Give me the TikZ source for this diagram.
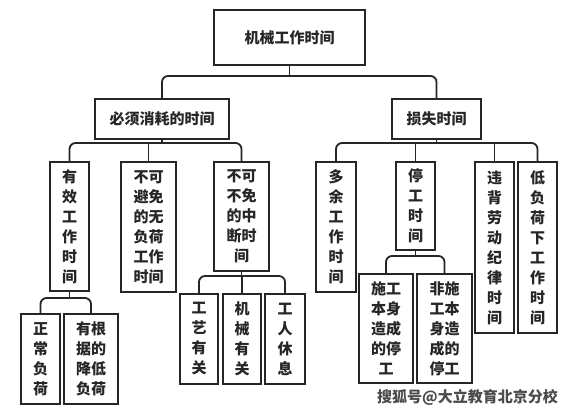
\documentclass[tikz,border=0pt]{standalone}
\usepackage{fontspec}
\setmainfont{Noto Sans CJK SC}
\usetikzlibrary{calc}
\begin{document}
\begin{tikzpicture}[x=1pt,y=-1pt,
  box/.style={draw=black!85,line width=1.8pt,fill=white,inner sep=0pt,align=center,
    font=\fontsize{15}{20}\selectfont\bfseries,text=black!85},
  conn/.style={draw=black!85,line width=1.8pt,rounded corners=6pt},
  wm/.style={font=\fontsize{15}{15}\selectfont\bfseries,text=black!70}]
\useasboundingbox (0,0) rectangle (575,412);
\fill[white] (0,0) rectangle (575,412);
% level 0
\node[box,minimum width=151pt,minimum height=55pt] (top) at (289.5,37.5) {机械工作时间};
% level 1
\node[box,minimum width=134pt,minimum height=40pt] (bx) at (162,119) {必须消耗的时间};
\node[box,minimum width=89pt,minimum height=40pt] (ss) at (436.5,119) {损失时间};
% level 2 left
\node[box,minimum width=39pt,minimum height=129pt] (yx) at (69.5,226.5) {有\\效\\工\\作\\时\\间};
\node[box,minimum width=55pt,minimum height=130pt] (bkb) at (148.5,227) {不可\\避免\\的无\\负荷\\工作\\时间};
\node[box,minimum width=55pt,minimum height=109pt] (zd) at (241.5,216.5) {不可\\不免\\的中\\断时\\间};
% level 2 right
\node[box,minimum width=40pt,minimum height=130pt] (dy) at (336,227) {多\\余\\工\\作\\时\\间};
\node[box,minimum width=39pt,minimum height=88pt] (tg) at (415.5,206) {停\\工\\时\\间};
\node[box,minimum width=39pt,minimum height=171pt] (wb) at (494.5,247.5) {违\\背\\劳\\动\\纪\\律\\时\\间};
\node[box,minimum width=39pt,minimum height=171pt] (dfh) at (537.5,247.5) {低\\负\\荷\\下\\工\\作\\时\\间};
% level 3
\node[box,minimum width=39pt,minimum height=90pt] (zc) at (40.5,359) {正\\常\\负\\荷};
\node[box,minimum width=54pt,minimum height=90pt] (ygj) at (91,359) {有根\\据的\\降低\\负荷};
\node[box,minimum width=38pt,minimum height=90pt] (gy) at (199,339) {工\\艺\\有\\关};
\node[box,minimum width=38pt,minimum height=90pt] (jx) at (242,339) {机\\械\\有\\关};
\node[box,minimum width=40pt,minimum height=90pt] (gr) at (285,339) {工\\人\\休\\息};
\node[box,minimum width=54pt,minimum height=109pt] (sg) at (386,328.5) {施工\\本身\\造成\\的停\\工};
\node[box,minimum width=55pt,minimum height=109pt] (fsg) at (444.5,328.5) {非施\\工本\\身造\\成的\\停工};
% buses
\coordinate (b0) at (top.south |- 0,76);
\coordinate (b1) at (bx.south |- 0,143);
\coordinate (b2) at (ss.south |- 0,143);
\coordinate (b3) at (yx.south |- 0,298);
\coordinate (b4) at (zd.south |- 0,276);
\coordinate (b5) at (tg.south |- 0,256);
% connectors
\draw[conn] (top.south) -- (b0);
\draw[conn] (bx.north) |- (b0) -| (ss.north);
\draw[conn] (bx.south) -- (b1);
\draw[conn] (yx.north) |- (b1) -| (zd.north);
\draw[conn] (bkb.north) -- (bkb.north |- b1);
\draw[conn] (ss.south) -- (b2);
\draw[conn] (dy.north) |- (b2) -| (dfh.north);
\draw[conn] (tg.north) -- (tg.north |- b2);
\draw[conn] (wb.north) -- (wb.north |- b2);
\draw[conn] (yx.south) -- (b3);
\draw[conn] (zc.north) |- (b3) -| (ygj.north);
\draw[conn] (zd.south) -- (b4);
\draw[conn] (gy.north) |- (b4) -| (gr.north);
\draw[conn] (jx.north) -- (jx.north |- b4);
\draw[conn] (tg.south) -- (b5);
\draw[conn] (sg.north) |- (b5) -| (fsg.north);
% watermark
\node[wm,anchor=west,inner sep=0pt] (wmk) at (377,397) {搜狐号@大立教育北京分校};
\end{tikzpicture}
\end{document}
